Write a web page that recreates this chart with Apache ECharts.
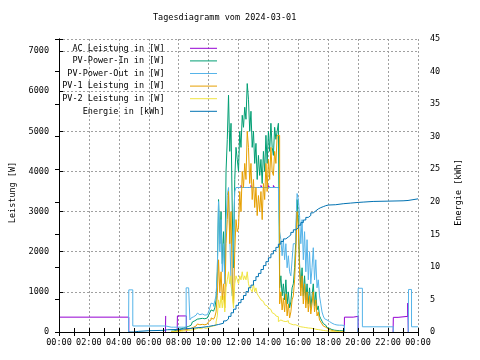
<!DOCTYPE html>
<html><head><meta charset="utf-8">
<script src="https://cdn.jsdelivr.net/npm/echarts@6/dist/echarts.min.js"></script>
<style>html,body{margin:0;padding:0;background:#fff}#c{width:480px;height:360px}</style>
</head><body><div id="c"></div>
<script>
// ---------- data ----------
const title = 'Tagesdiagramm vom 2024-03-01';
const names = ['AC Leistung in [W]', 'PV-Power-In in [W]', 'PV-Power-Out in [W]', 'PV-1 Leistung in [W]', 'PV-2 Leistung in [W]', 'Energie in [kWh]'];

// day grid: 5-minute samples starting 07:30
const dayStart = '07:30';
const dayStepMin = 5;

// PV-Power-Out (W), 5-min grid, rows per hour
const pvOutDay = [
  120,120,120,120,120,120,                                   // 07:30-07:55
  120,120,120,120,120,120,1100,1100,1100,300,350,380,         // 08
  380,420,450,470,430,400,450,480,420,390,430,460,            // 09
  500,600,720,700,640,780,900,1500,3250,2000,2800,1500,       // 10
  2200,1200,2800,3400,3600,2400,1200,900,2600,3500,3600,3600, // 11
  3600,3600,3600,3600,3600,3600,3600,3600,3600,3600,3600,3600,// 12
  3600,3600,3600,3600,3600,3600,3600,3600,3600,3600,3600,3600,// 13
  3600,3600,3600,3600,3600,3600,3600,3600,3600,2500,2300,1900,// 14
  2300,1800,2200,1600,1900,1500,1400,1800,2200,2200,2600,3450,// 15
  3300,2900,2200,2800,1800,2500,1500,2300,1300,2000,1200,1600,// 16
  2100,1300,1800,1100,1300,900,700,500,400,330,300,280,       // 17
  260,240,220,200,190,180,175,170,170,170,170,165,            // 18
  160,0                                                       // 19
];
const pvOutMorningTimes = ['04:39','04:40','04:56','07:08'];
const pvOutMorningValues = [0, 1050, 150, 120];
const pvOutEveningTimes = ['19:06','19:59','20:00','20:17','22:21','22:22','23:21','23:22','23:34','24:00'];
const pvOutEveningValues = [null, 0, 1090, 130, 0, null, 0, 1060, 130, 130];

// PV-Power-In (W)
const pvInDay = [
  20,25,30,40,50,60,
  70,80,90,100,110,120,130,140,150,170,200,250,
  280,300,320,350,330,300,340,380,330,300,350,380,
  420,480,550,520,480,600,800,1500,3300,2200,3000,1700,
  2500,1400,4000,4800,5900,4500,5200,3000,1600,3800,4600,4300,
  4000,5000,4600,5400,5100,5600,5300,6190,5800,5000,5500,4600,
  5000,4200,4700,3800,4400,3900,4300,3700,4500,4000,4900,4200,
  5000,4500,5200,4600,4400,5100,4800,5000,5200,1100,1400,900,
  1200,800,1300,700,1000,600,750,1100,1200,1600,2300,3300,
  2800,1700,1100,1600,900,1400,800,1200,700,1100,600,900,
  1200,650,1000,550,650,400,330,270,210,170,140,110,
  90,75,60,50,45,40,38,36,34,32,30,28,
  25,0
];

// PV-1 Leistung (W)
const pv1Day = [
  10,12,15,20,25,30,
  35,40,45,50,55,60,65,70,80,90,100,120,
  140,150,170,200,180,150,190,220,180,160,200,230,
  260,300,350,320,280,380,500,900,1800,1000,1500,800,
  1200,600,2200,2800,3500,2200,3000,1200,700,2000,2800,2500,
  2600,3500,3000,4000,3600,4200,3800,5000,4600,3700,4200,3300,
  3800,3100,3600,2900,3400,3000,3500,2800,3700,3300,4200,3500,
  4300,3800,4600,4000,3900,4500,4200,4900,4900,700,1000,550,
  850,500,950,400,700,350,500,800,900,1300,2000,3000,
  2600,1500,900,1400,700,1200,600,1000,500,900,450,700,
  1000,500,800,400,500,300,250,200,150,120,100,80,
  60,50,40,30,25,22,20,18,16,14,12,10,
  8,0
];

// PV-2 Leistung (W)
const pv2Day = [
  5,6,8,10,12,14,
  16,18,20,24,28,32,36,40,45,50,55,60,
  70,80,90,100,90,80,100,110,100,90,100,110,
  120,140,160,150,140,170,250,400,800,600,900,600,
  900,500,1100,1300,1500,1200,1400,900,600,1200,1400,1300,
  1200,1400,1300,1500,1300,1400,1300,1500,1200,1100,1050,1000,
  1200,1000,1100,950,900,850,800,760,720,680,650,620,
  600,560,520,480,450,420,400,380,260,300,280,270,
  300,260,250,280,230,200,190,180,200,180,160,150,
  140,130,125,120,115,110,105,100,98,95,90,85,
  80,70,65,60,55,50,45,40,35,30,28,25,
  22,20,18,16,14,12,11,10,9,8,7,6,
  5,0
];

// AC Leistung (W)
const acTimes = ['00:00','04:40','04:41','07:07','07:08','07:09','07:54','07:55','08:31','08:32',
  '12:00','12:10','12:15','12:50','12:55','13:30','13:35','14:00','14:05','14:20','14:25','14:45','14:46',
  '19:04','19:05','19:40','20:00','20:01','22:20','22:21','22:40','23:19','23:21','23:22'];
const acValues = [370,0,null,0,400,null,0,400,0,null,
  3600,3650,3600,3650,3600,3650,3600,3650,3600,3650,3600,3600,null,
  0,370,390,0,null,0,365,390,720,0,null];

// Energie (kWh)
const energyTimes = ['04:40','05:00','05:20','06:00','07:00','07:15','08:00','08:30','09:00','09:30','10:00','10:20','10:40',
  '11:00','11:10','11:20','11:30','11:40','11:50','12:00','12:10','12:20','12:30','12:40','12:50',
  '13:00','13:10','13:20','13:30','13:40','13:50','14:00','14:10','14:20','14:30','14:40','14:50',
  '15:00','15:10','15:20','15:30','15:40','15:50','16:00','16:10','16:20','16:30','16:40','16:50',
  '17:00','17:10','17:20','17:30','17:40','17:50','18:00','18:30','19:00','19:30',
  '20:00','20:20','21:00','22:00','23:00','23:20','24:00'];
const energyValues = [0,0.1,0.2,0.25,0.35,0.4,0.5,0.6,0.7,0.85,1.0,1.15,1.35,
  1.7,2.0,2.4,2.95,3.5,4.1,4.5,5.0,5.6,6.2,6.8,7.2,
  7.9,8.5,9.0,9.6,10.2,10.8,11.4,12.0,12.5,13.0,13.5,13.9,
  14.3,14.6,14.9,15.3,15.7,16.0,16.4,16.8,17.2,17.6,17.9,18.3,
  18.6,18.9,19.1,19.25,19.4,19.5,19.55,19.7,19.8,19.9,
  19.95,20.05,20.1,20.15,20.2,20.45,20.45];

// ---------- helpers ----------
const toH = t => { const p = t.split(':').map(Number); return p[0] + p[1] / 60; };
const pairs = (times, vals) => times.map((t, i) => [toH(t), vals[i]]);
const dayPairs = vals => vals.map((v, i) => [toH(dayStart) + i * dayStepMin / 60, v]);

const pvOutData = pairs(pvOutMorningTimes, pvOutMorningValues)
  .concat(dayPairs(pvOutDay))
  .concat(pairs(pvOutEveningTimes, pvOutEveningValues));

const FONT = 'DejaVu Sans Mono';
const FS = 8.5;
const colors = ['#9400d3', '#009e73', '#56b4e9', '#e69f00', '#f0e442', '#0072b2'];

const mk = (i, data, yIdx) => ({
  name: names[i], type: 'line', step: 'end', data: data,
  xAxisIndex: 0, yAxisIndex: yIdx || 0,
  symbol: 'none', showSymbol: false, silent: true, connectNulls: false,
  color: colors[i], lineStyle: { width: 1, color: colors[i] }, itemStyle: { color: colors[i] }
});

const axisLineStyle = { show: true, lineStyle: { color: '#000', width: 1 } };
const labelStyle = { color: '#000', fontFamily: FONT, fontSize: FS };
const nameStyle = Object.assign({ padding: [0, 14, 0, 0] }, labelStyle);
const grid = { color: '#a0a0a0', width: 1, type: [2, 2] };

const chart = echarts.init(document.getElementById('c'), null, { renderer: 'canvas' });
chart.setOption({
  animation: false,
  backgroundColor: '#fff',
  title: { text: title, left: 153, top: 13, padding: 0,
    textStyle: { fontFamily: FONT, fontSize: FS, fontWeight: 'normal', color: '#000' } },
  legend: {
    data: names, orient: 'vertical', right: 263, top: 42, padding: 0, align: 'right',
    itemWidth: 27, itemHeight: 1, itemGap: 0, icon: 'rect', selectedMode: false,
    formatter: n => n + '    ',
    textStyle: { fontFamily: FONT, fontSize: FS, color: '#000', lineHeight: 12.6 }
  },
  grid: { left: 58, right: 62, top: 39, bottom: 28, containLabel: false },
  xAxis: [
    { type: 'value', min: 0, max: 24, interval: 2, position: 'bottom', z: 10,
      axisLine: axisLineStyle,
      axisTick: { show: true, inside: true, length: 4, lineStyle: { color: '#000' } },
      minorTick: { show: true, splitNumber: 2, length: 4, lineStyle: { color: '#000' } },
      axisLabel: Object.assign({ margin: 6, formatter: v => String(v % 24).padStart(2, '0') + ':00' }, labelStyle),
      splitLine: { show: false } },
    { type: 'value', min: 0, max: 24, interval: 2, position: 'top', z: 10,
      axisLine: axisLineStyle,
      axisTick: { show: true, inside: true, length: 4, lineStyle: { color: '#000' } },
      minorTick: { show: true, splitNumber: 2, length: 4, lineStyle: { color: '#000' } },
      axisLabel: { show: false }, splitLine: { show: false } },
    { type: 'value', min: 0, max: 24, interval: 2, position: 'bottom', z: 0,
      axisLine: { show: false }, axisTick: { show: false }, axisLabel: { show: false },
      splitLine: { show: true, lineStyle: grid } }
  ],
  yAxis: [
    { type: 'value', min: 0, max: 7300, interval: 1000, position: 'left', z: 10,
      axisLine: axisLineStyle,
      axisTick: { show: true, inside: true, length: 4, lineStyle: { color: '#000' } },
      axisLabel: Object.assign({ margin: 10, formatter: v => (v % 1000 === 0 ? String(v) : '') }, labelStyle),
      splitLine: { show: false },
      name: 'Leistung [W]', nameLocation: 'middle', nameRotate: 90, nameGap: 42,
      nameTextStyle: nameStyle },
    { type: 'value', min: 0, max: 45, interval: 5, position: 'right', z: 10,
      axisLine: axisLineStyle,
      axisTick: { show: true, inside: true, length: 4, lineStyle: { color: '#000' } },
      axisLabel: Object.assign({ margin: 12 }, labelStyle),
      splitLine: { show: false },
      name: 'Energie [kWh]', nameLocation: 'middle', nameRotate: 90, nameGap: 36,
      nameTextStyle: nameStyle },
    { type: 'value', min: 0, max: 7300, interval: 1000, position: 'left', z: 0,
      axisLine: { show: false }, axisTick: { show: false }, axisLabel: { show: false },
      splitLine: { show: true, lineStyle: grid } }
  ],
  series: [
    mk(0, pairs(acTimes, acValues)),
    mk(1, dayPairs(pvInDay)),
    mk(2, pvOutData),
    mk(3, dayPairs(pv1Day)),
    mk(4, dayPairs(pv2Day)),
    mk(5, pairs(energyTimes, energyValues), 1)
  ]
});
</script></body></html>
